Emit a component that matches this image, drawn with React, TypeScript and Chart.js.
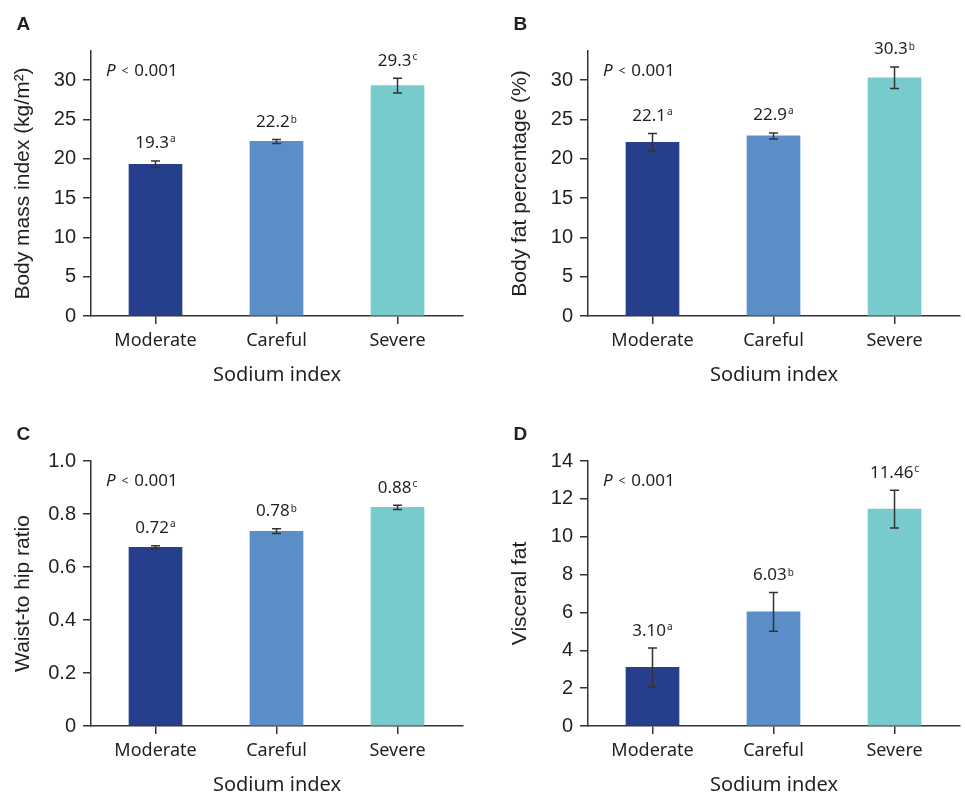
import React, { useEffect, useRef } from 'react';
import { Chart, registerables } from 'chart.js';

Chart.register(...registerables);

// ---------- data ----------
const categories = ['Moderate', 'Careful', 'Severe'];
const barColors = ['#263f8c', '#5b8ec9', '#77cbcc'];
const xAxisTitle = 'Sodium index';
const pValueText = '0.001';

const bmiValues = [19.3, 22.2, 29.3];
const bmiErrors = [0.42, 0.25, 0.95];
const bmiLabels = ['19.3', '22.2', '29.3'];
const bmiLetters = ['a', 'b', 'c'];

const fatValues = [22.1, 22.9, 30.3];
const fatErrors = [1.1, 0.38, 1.38];
const fatLabels = ['22.1', '22.9', '30.3'];
const fatLetters = ['a', 'a', 'b'];

const whrValues = [0.674, 0.735, 0.825];
const whrErrors = [0.006, 0.009, 0.008];
const whrLabels = ['0.72', '0.78', '0.88'];
const whrLetters = ['a', 'b', 'c'];

const vfValues = [3.1, 6.03, 11.46];
const vfErrors = [1.02, 1.02, 1.0];
const vfLabels = ['3.10', '6.03', '11.46'];
const vfLetters = ['a', 'b', 'c'];

const TEXT = '#231f20';
const AXIS = '#333333';

type Panel = {
  letter: string;
  yTitle: string;
  values: number[];
  errors: number[];
  labels: string[];
  letters: string[];
  yMax: number;
  yStep: number;
  decimals: number;
  left: number;
  top: number;
};

const panels: Panel[] = [
  { letter: 'A', yTitle: 'Body mass index (kg/m\u00B2)', values: bmiValues, errors: bmiErrors, labels: bmiLabels, letters: bmiLetters, yMax: 33.7, yStep: 5, decimals: 0, left: 0, top: 0 },
  { letter: 'B', yTitle: 'Body fat percentage (%)', values: fatValues, errors: fatErrors, labels: fatLabels, letters: fatLetters, yMax: 33.7, yStep: 5, decimals: 0, left: 497, top: 0 },
  { letter: 'C', yTitle: 'Waist-to hip ratio', values: whrValues, errors: whrErrors, labels: whrLabels, letters: whrLetters, yMax: 1.0, yStep: 0.2, decimals: 1, left: 0, top: 410 },
  { letter: 'D', yTitle: 'Visceral fat', values: vfValues, errors: vfErrors, labels: vfLabels, letters: vfLetters, yMax: 14, yStep: 2, decimals: 0, left: 497, top: 410 },
];

const CW = 468;
const CH = 383;

function makePlugin(p: Panel) {
  return {
    id: 'annot' + p.letter,
    afterDatasetsDraw(chart: any) {
      const ctx = chart.ctx as CanvasRenderingContext2D;
      const ys = chart.scales.y;
      const meta = chart.getDatasetMeta(0);
      const area = chart.chartArea;
      ctx.save();
      // error bars
      ctx.strokeStyle = AXIS;
      ctx.lineWidth = 1.5;
      meta.data.forEach((bar: any, i: number) => {
        const v = p.values[i];
        const e = p.errors[i];
        const yt = ys.getPixelForValue(v + e);
        const yb = ys.getPixelForValue(v - e);
        const x = bar.x;
        ctx.beginPath();
        ctx.moveTo(x, yt);
        ctx.lineTo(x, yb);
        ctx.moveTo(x - 4.5, yt);
        ctx.lineTo(x + 4.5, yt);
        ctx.moveTo(x - 4.5, yb);
        ctx.lineTo(x + 4.5, yb);
        ctx.stroke();

        // value label with superscript letter
        ctx.fillStyle = TEXT;
        ctx.textBaseline = 'alphabetic';
        ctx.textAlign = 'left';
        ctx.font = '17px "Noto Sans"';
        const main = p.labels[i];
        const mm = ctx.measureText(main);
        const w1 = mm.width;
        const capTop = mm.actualBoundingBoxAscent;
        ctx.font = '10px "Noto Sans"';
        const sm = ctx.measureText(p.letters[i]);
        const w2 = sm.width;
        const total = w1 + 1 + w2;
        const baseY = yt - 12.5;
        const sx = x - total / 2;
        ctx.font = '17px "Noto Sans"';
        ctx.fillText(main, sx, baseY);
        ctx.font = '10px "Noto Sans"';
        ctx.fillText(p.letters[i], sx + w1 + 1, baseY - capTop + sm.actualBoundingBoxAscent);
      });

      // panel letter
      ctx.fillStyle = TEXT;
      ctx.textAlign = 'left';
      ctx.textBaseline = 'alphabetic';
      ctx.font = 'bold 19px "Liberation Sans"';
      ctx.fillText(p.letter, 16.5, 29.5);

      // P value
      const px = area.left + 15;
      const py = 76;
      ctx.font = 'italic 17px "Noto Sans"';
      ctx.fillText('P', px, py);
      ctx.font = '12px "Noto Sans"';
      ctx.fillText('<', px + 15.5, py - 1);
      ctx.font = '17px "Noto Sans"';
      ctx.fillText(pValueText, px + 28.3, py);
      ctx.restore();
    },
  };
}

function PanelChart({ p }: { p: Panel }) {
  const ref = useRef<HTMLCanvasElement | null>(null);
  useEffect(() => {
    if (!ref.current) return;
    const chart = new Chart(ref.current, {
      type: 'bar',
      data: {
        datasets: [
          {
            data: p.values.map((v, i) => ({ x: i, y: v })),
            backgroundColor: barColors,
            borderWidth: 0,
            barThickness: 53,
          } as any,
        ],
      },
      options: {
        responsive: false,
        animation: false,
        devicePixelRatio: 1,
        layout: { padding: { left: 0, right: 5, top: 51, bottom: 0 } },
        plugins: { legend: { display: false }, tooltip: { enabled: false } },
        scales: {
          x: {
            type: 'linear',
            offset: false,
            min: -0.533,
            max: 2.541,
            afterFit: (s: any) => {
              s.height = CH - 316;
            },
            afterBuildTicks: (s: any) => {
              s.ticks = categories.map((_, i) => ({ value: i }));
            },
            ticks: {
              autoSkip: false,
              maxRotation: 0,
              padding: 6,
              color: TEXT,
              font: { family: 'Noto Sans', size: 18 },
              callback: (v: any) => categories[v] ?? '',
            },
            grid: { offset: false, drawOnChartArea: false, drawTicks: true, tickLength: 8, color: AXIS, lineWidth: 1.5 },
            border: { display: true, color: AXIS, width: 1.5 },
            title: {
              display: true,
              text: xAxisTitle,
              color: TEXT,
              font: { family: 'Noto Sans', size: 20, lineHeight: 0.77 },
              padding: 0,
            },
          },
          y: {
            min: 0,
            max: p.yMax,
            afterFit: (s: any) => {
              s.width = 91;
            },
            ticks: {
              stepSize: p.yStep,
              includeBounds: false,
              padding: 7,
              color: TEXT,
              font: { family: 'Liberation Sans', size: 20 },
              callback: (v: any) => (Math.abs(v) < 1e-9 ? '0' : Number(v).toFixed(p.decimals)),
            },
            grid: { drawOnChartArea: false, drawTicks: true, tickLength: 8, color: AXIS, lineWidth: 1.5 },
            border: { display: true, color: AXIS, width: 1.5 },
            title: {
              display: true,
              text: p.yTitle,
              color: TEXT,
              font: { family: 'Liberation Sans', size: 21, lineHeight: 1 },
              padding: { top: 13, bottom: 0 },
            },
          },
        },
      } as any,
      plugins: [makePlugin(p)],
    });
    return () => chart.destroy();
  }, [p]);
  return (
    <div style={{ position: 'absolute', left: p.left, top: p.top, width: CW, height: CH }}>
      <canvas ref={ref} width={CW} height={CH} style={{ display: 'block' }} />
    </div>
  );
}

export default function App() {
  return (
    <div style={{ position: 'absolute', left: 0, top: 0, width: 965, height: 793, background: '#ffffff' }}>
      {panels.map((p) => (
        <PanelChart key={p.letter} p={p} />
      ))}
    </div>
  );
}
